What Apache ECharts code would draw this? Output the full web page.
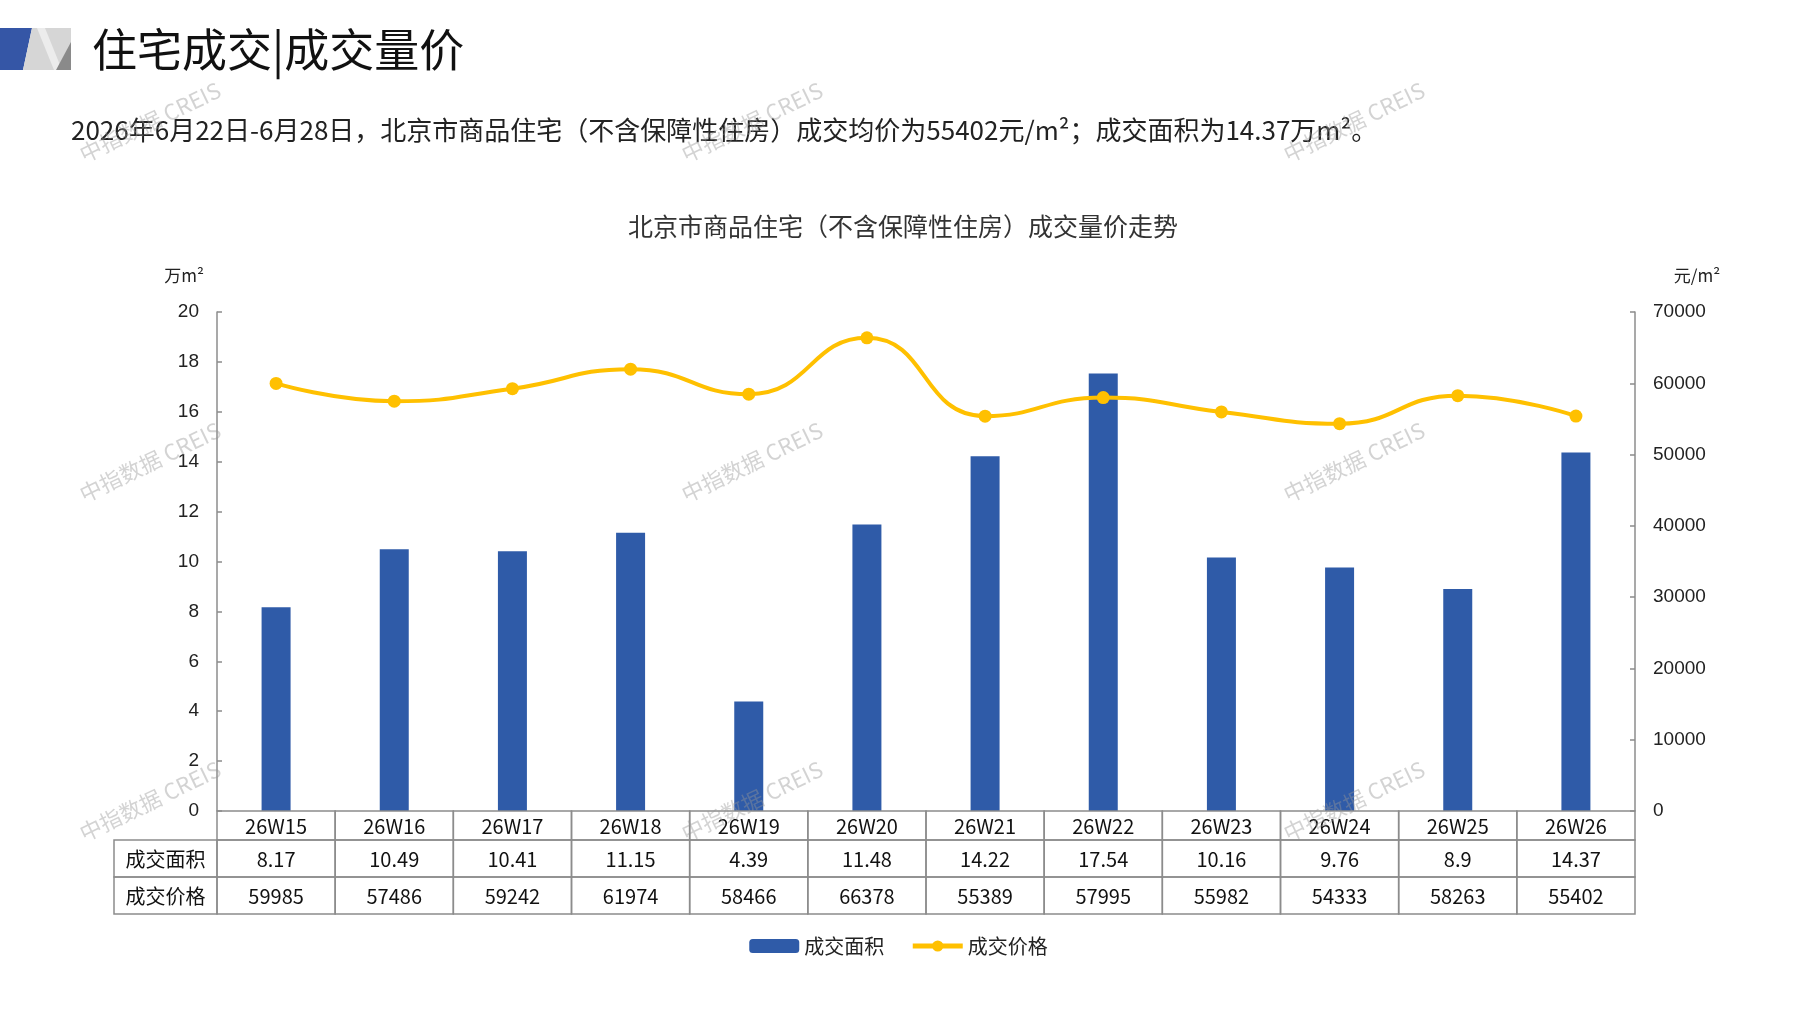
<!DOCTYPE html>
<html>
<head>
<meta charset="utf-8">
<script src="https://cdn.jsdelivr.net/npm/echarts@6/dist/echarts.min.js"></script>
<style>
html,body{margin:0;padding:0;background:#fff;}
#chart{width:1797px;height:1010px;}
</style>
</head>
<body>
<div id="chart"></div>
<script>
const categories = ['26W15','26W16','26W17','26W18','26W19','26W20','26W21','26W22','26W23','26W24','26W25','26W26'];
const areaValues = [8.17, 10.49, 10.41, 11.15, 4.39, 11.48, 14.22, 17.54, 10.16, 9.76, 8.9, 14.37];
const priceValues = [59985, 57486, 59242, 61974, 58466, 66378, 55389, 57995, 55982, 54333, 58263, 55402];
const rowHeaders = ['成交面积', '成交价格'];
const leftTicks = {min: 0, max: 20, interval: 2};
const rightTicks = {min: 0, max: 70000, interval: 10000};

const CJK = "'Noto Sans CJK SC', 'Noto Sans', sans-serif";
const LAT = "'Liberation Sans', Arial, sans-serif";
const GRID = {left: 217, right: 162, top: 312, bottom: 199};
const ROW_H = [29, 37, 37];
const HEADER_W = 103;
const BORDER = '#8c8c8c';

const chart = echarts.init(document.getElementById('chart'));

const watermarks = [];
[150, 752, 1354].forEach(function (x) {
  [122, 462, 801].forEach(function (y) {
    watermarks.push({
      type: 'text', x: x, y: y, rotation: 0.45, silent: true, z: 100,
      style: {text: '中指数据 CREIS', font: '22px ' + CJK, fill: 'rgba(150,150,150,0.42)', align: 'center', verticalAlign: 'middle'}
    });
  });
});

function renderTable(params, api) {
  const i = api.value(0);
  const c = api.coord([i, 0]);
  const w = api.size([1, 0])[0];
  const left = c[0] - w / 2;
  const y0 = c[1];
  const children = [];
  const rows = [categories[i], String(areaValues[i]), String(priceValues[i])];
  let y = y0;
  for (let r = 0; r < 3; r++) {
    children.push({type: 'rect', shape: {x: left, y: y, width: w, height: ROW_H[r]},
      style: {fill: 'none', stroke: BORDER, lineWidth: 1.5}});
    children.push({type: 'text', x: c[0], y: y + ROW_H[r] / 2 + 1,
      style: {text: rows[r], font: '20px ' + CJK, fill: '#111', align: 'center', verticalAlign: 'middle'}});
    if (i === 0 && r > 0) {
      children.push({type: 'rect', shape: {x: left - HEADER_W, y: y, width: HEADER_W, height: ROW_H[r]},
        style: {fill: 'none', stroke: BORDER, lineWidth: 1.5}});
      children.push({type: 'text', x: left - HEADER_W / 2, y: y + ROW_H[r] / 2 + 1,
        style: {text: rowHeaders[r - 1], font: '20px ' + CJK, fill: '#111', align: 'center', verticalAlign: 'middle'}});
    }
    y += ROW_H[r];
  }
  return {type: 'group', children: children};
}

const option = {
  backgroundColor: '#fff',
  animation: false,
  graphic: [
    {type: 'polygon', shape: {points: [[0, 28], [32, 28], [23, 70], [0, 70]]}, style: {fill: '#3556A6'}},
    {type: 'polygon', shape: {points: [[32, 28], [71, 28], [71, 70], [23, 70]]}, style: {fill: '#d6d6d6'}},
    {type: 'polygon', shape: {points: [[37, 28], [45, 28], [62, 70], [54, 70]]}, style: {fill: '#ffffff', opacity: 0.55}},
    {type: 'polygon', shape: {points: [[71, 42], [71, 70], [56, 70]]}, style: {fill: '#8a8a8a'}},
    {type: 'text', x: 92, y: 50, style: {text: '住宅成交|成交量价', font: '45px ' + CJK, fill: '#111', verticalAlign: 'middle'}},
    {type: 'text', x: 71, y: 130, style: {text: '2026年6月22日-6月28日，北京市商品住宅（不含保障性住房）成交均价为55402元/m²；成交面积为14.37万m²。', font: '26px ' + CJK, fill: '#222', verticalAlign: 'middle'}},
    {type: 'text', x: 903, y: 226, style: {text: '北京市商品住宅（不含保障性住房）成交量价走势', font: '25px ' + CJK, fill: '#333', align: 'center', verticalAlign: 'middle'}},
    {type: 'text', x: 184, y: 276, style: {text: '万m²', font: '17px ' + CJK, fill: '#222', align: 'center', verticalAlign: 'middle'}},
    {type: 'text', x: 1697, y: 276, style: {text: '元/m²', font: '17px ' + CJK, fill: '#222', align: 'center', verticalAlign: 'middle'}}
  ].concat(watermarks),
  legend: {
    data: ['成交面积', '成交价格'],
    left: 'center', top: 931,
    itemWidth: 50, itemHeight: 14, itemGap: 26,
    lineStyle: {width: 5},
    textStyle: {fontFamily: CJK, fontSize: 20, color: '#222'}
  },
  grid: GRID,
  xAxis: {
    type: 'category', data: categories, boundaryGap: true,
    axisLine: {show: false}, axisTick: {show: false}, axisLabel: {show: false}, splitLine: {show: false}
  },
  yAxis: [
    {
      type: 'value', min: leftTicks.min, max: leftTicks.max, interval: leftTicks.interval,
      axisLine: {show: true, lineStyle: {color: BORDER, width: 1.5}},
      axisTick: {show: true, inside: true, length: 5, lineStyle: {color: BORDER, width: 1.5}},
      axisLabel: {fontFamily: LAT, fontSize: 19, color: '#222', margin: 18},
      splitLine: {show: false}
    },
    {
      type: 'value', min: rightTicks.min, max: rightTicks.max, interval: rightTicks.interval,
      position: 'right',
      axisLine: {show: true, lineStyle: {color: BORDER, width: 1.5}},
      axisTick: {show: true, inside: true, length: 5, lineStyle: {color: BORDER, width: 1.5}},
      axisLabel: {fontFamily: LAT, fontSize: 19, color: '#222', margin: 18, formatter: function (v) { return String(v); }},
      splitLine: {show: false}
    }
  ],
  series: [
    {
      name: '成交面积', type: 'bar', data: areaValues, yAxisIndex: 0,
      barWidth: 29, itemStyle: {color: '#2F5BA8'}
    },
    {
      name: '成交价格', type: 'line', data: priceValues, yAxisIndex: 1,
      smooth: 0.5, symbol: 'circle', symbolSize: 13,
      lineStyle: {color: '#FFC000', width: 4}, itemStyle: {color: '#FFC000'}, z: 5
    },
    {
      name: 'table', type: 'custom', data: categories.map(function (c, i) { return [i, 0]; }),
      xAxisIndex: 0, yAxisIndex: 0, renderItem: renderTable, silent: true, clip: false, z: 10
    }
  ]
};
chart.setOption(option);
</script>
</body>
</html>
